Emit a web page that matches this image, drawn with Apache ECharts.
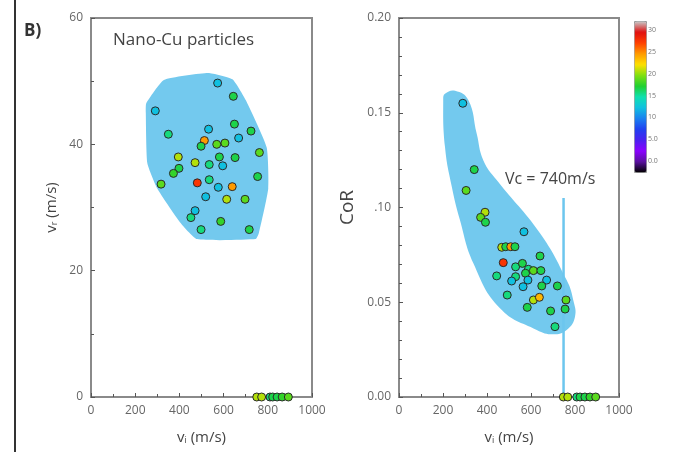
<!DOCTYPE html>
<html>
<head>
<meta charset="utf-8">
<script src="https://cdn.jsdelivr.net/npm/echarts@6/dist/echarts.min.js"></script>
<style>
  html, body { margin: 0; padding: 0; background: #fff; }
  #chart { width: 674px; height: 452px; }
</style>
</head>
<body>
<div id="chart"></div>
<script>
// impact velocity vi (m/s), rebound velocity vr (m/s), colour value
var reboundPoints = [
  [573, 49.7, 12.5], [644, 47.6, 17], [291, 45.3, 12.5], [649, 43.2, 17], [350, 41.6, 16],
  [532, 42.4, 12.5], [724, 42.1, 17], [668, 41.0, 12.5], [513, 40.6, 25], [498, 39.7, 17],
  [569, 40.0, 19], [606, 40.2, 19], [762, 38.7, 19], [395, 38.0, 21], [581, 38.0, 17],
  [652, 37.9, 17], [471, 37.1, 21], [535, 36.8, 16], [596, 36.6, 12.5], [398, 36.2, 17],
  [373, 35.4, 18], [754, 34.9, 17], [317, 33.7, 19], [535, 34.4, 16], [481, 33.9, 28],
  [576, 33.2, 12.5], [639, 33.3, 25], [519, 31.7, 12.5], [614, 31.3, 21], [697, 31.3, 19],
  [471, 29.5, 12.5], [452, 28.4, 16], [587, 27.8, 18], [498, 26.5, 16], [716, 26.5, 17],
  [750, 0, 21], [772, 0, 21], [810, 0, 16], [822, 0, 17], [842, 0, 17], [865, 0, 18], [893, 0, 19]
];

// impact velocity vi (m/s), coefficient of restitution, colour value
var corPoints = [
  [290, 0.155, 12.5], [342, 0.120, 17], [305, 0.109, 19], [391, 0.0975, 21], [371, 0.0948, 19],
  [393, 0.0922, 17], [568, 0.0872, 12.5], [467, 0.079, 21], [485, 0.0793, 17], [508, 0.0793, 25],
  [527, 0.0793, 17], [641, 0.0744, 17], [474, 0.0709, 28], [530, 0.0687, 16], [561, 0.0705, 17],
  [588, 0.0674, 16], [611, 0.0667, 19], [645, 0.0667, 17], [444, 0.0639, 16], [530, 0.0635, 16],
  [575, 0.0653, 17], [512, 0.0612, 12.5], [586, 0.0617, 12.5], [671, 0.0617, 12.5], [649, 0.0586, 17],
  [564, 0.0582, 12.5], [720, 0.0586, 17], [492, 0.0538, 16], [611, 0.0512, 21], [638, 0.0526, 24],
  [759, 0.0512, 19], [583, 0.0473, 17], [689, 0.0454, 17], [755, 0.0464, 17], [709, 0.0371, 16],
  [747, 0, 21], [767, 0, 21], [808, 0, 16], [823, 0, 17], [845, 0, 17], [868, 0, 18], [894, 0, 19]
];

// shaded regions (outline vertices in data units)
var reboundZone = [
  [250, 46.5], [330, 50.2], [530, 51.3], [640, 50.3], [700, 47], [795, 39.5], [802, 33],
  [760, 26], [745, 25], [480, 25], [400, 27.8], [300, 33], [255, 37], [248, 45]
];
var corZone = [
  [209, 0.160], [255, 0.1616], [315, 0.1567], [353, 0.139], [383, 0.125], [444, 0.1145],
  [641, 0.0864], [762, 0.0617], [792, 0.0512], [800, 0.0424], [762, 0.0354], [701, 0.0331],
  [626, 0.0354], [459, 0.0468], [338, 0.0706], [277, 0.0934], [240, 0.111], [209, 0.132], [201, 0.157]
];

var vcLine = [[748, 0], [748, 0.105]];

var zoneColor = '#73c9ee';
var axisColor = '#8a8a8a';
var labelColor = '#666';
var fontName = 'Open Sans';

var chart = echarts.init(document.getElementById('chart'));

function zoneRenderer(points, smooth) {
  return function(params, api) {
    return {
      type: 'polygon',
      shape: { points: points.map(function(p) { return api.coord(p); }), smooth: smooth },
      style: { fill: zoneColor }
    };
  };
}

function valueAxis(grid, min, max, interval, extra) {
  var ax = {
    type: 'value', gridIndex: grid, min: min, max: max, interval: interval,
    axisLine: { show: true, onZero: false, lineStyle: { color: axisColor, width: 2 } },
    axisTick: { show: true, inside: true, length: 4, lineStyle: { color: '#555' } },
    minorTick: { show: true, splitNumber: 2, length: 3, lineStyle: { color: '#555' } },
    splitLine: { show: false },
    axisLabel: {
      color: labelColor, fontSize: 12, fontFamily: fontName,
      formatter: function(v) { return String(v); }
    }
  };
  for (var k in extra) ax[k] = extra[k];
  return ax;
}

var subRich = {
  a: { fontSize: 15, color: '#444', fontFamily: fontName },
  s: { fontSize: 9, color: '#444', fontFamily: fontName, verticalAlign: 'bottom', padding: [6, 0, 0, 0] }
};

var velName = {
  name: '{a|v}{s|i}{a| (m/s)}',
  nameLocation: 'middle', nameGap: 33,
  nameTextStyle: { rich: subRich }
};

var option = {
  backgroundColor: '#fff',
  animation: false,
  grid: [
    { left: 91, top: 18, width: 221, height: 379, show: true, borderColor: axisColor, borderWidth: 2 },
    { left: 399, top: 18, width: 220, height: 379, show: true, borderColor: axisColor, borderWidth: 2 },
    { left: 634, top: 30, width: 12, height: 131 }
  ],
  xAxis: [
    valueAxis(0, 0, 1000, 200, velName),
    valueAxis(1, 0, 1000, 200, velName),
    { type: 'value', gridIndex: 2, show: false }
  ],
  yAxis: [
    valueAxis(0, 0, 60, 20, {
      name: '{a|v}{s|r}{a| (m/s)}',
      nameLocation: 'middle', nameGap: 32,
      nameTextStyle: { rich: subRich }
    }),
    valueAxis(1, 0, 0.2, 0.05, {
      minorTick: { show: true, splitNumber: 5, length: 3, lineStyle: { color: '#555' } },
      axisLabel: {
        color: labelColor, fontSize: 12, fontFamily: fontName,
        formatter: function(v) { return Math.abs(v - 0.1) < 1e-9 ? '.10' : v.toFixed(2); }
      },
      name: 'CoR', nameLocation: 'middle', nameGap: 42,
      nameTextStyle: { fontSize: 19, color: '#444', fontFamily: fontName }
    }),
    {
      type: 'value', gridIndex: 2, min: 0, max: 30, interval: 5, position: 'right',
      axisLine: { show: false },
      axisTick: { show: true, length: 3, lineStyle: { color: '#999' } },
      splitLine: { show: false },
      axisLabel: {
        color: '#777', fontSize: 7, margin: 2, fontFamily: fontName,
        formatter: function(v) { return v < 10 ? v.toFixed(1) : String(v); }
      }
    }
  ],
  visualMap: {
    type: 'continuous',
    seriesIndex: [2, 3],
    dimension: 2,
    min: -2.5, max: 32.5,
    left: 634, top: 21,
    itemWidth: 12, itemHeight: 151,
    calculable: false,
    showLabel: false,
    text: null,
    padding: 0,
    borderColor: '#999', borderWidth: 1,
    inRange: {
      color: ['#000000', '#5a10a0', '#8a00ff', '#4a20f0', '#2040f0', '#1a80f0', '#10c0e0',
        '#10e0b0', '#20d030', '#80e010', '#ffe000', '#ff9a00', '#ff4000', '#e01010', '#c8c8c8']
    }
  },
  graphic: [
    { type: 'rect', left: 14, top: 0, shape: { width: 2, height: 452 }, style: { fill: '#333' } },
    { type: 'text', left: 24, top: 23, style: { text: 'B)', font: 'bold 17px "Open Sans"', fill: '#333' } },
    { type: 'text', left: 113, top: 32, style: { text: 'Nano-Cu particles', font: '17px "Open Sans"', fill: '#444' } },
    { type: 'text', left: 505, top: 171, style: { text: 'Vc = 740m/s', font: '16px "Open Sans"', fill: '#444' } }
  ],
  series: [
    {
      type: 'custom', xAxisIndex: 0, yAxisIndex: 0, z: 1,
      data: [[0, 0]], renderItem: zoneRenderer(reboundZone, 0.15)
    },
    {
      type: 'custom', xAxisIndex: 1, yAxisIndex: 1, z: 1,
      data: [[0, 0]], renderItem: zoneRenderer(corZone, 0.45)
    },
    {
      type: 'scatter', xAxisIndex: 0, yAxisIndex: 0, z: 4, clip: false,
      symbolSize: 8, data: reboundPoints,
      itemStyle: { borderColor: '#2a2a2a', borderWidth: 1, opacity: 1 }
    },
    {
      type: 'scatter', xAxisIndex: 1, yAxisIndex: 1, z: 4, clip: false,
      symbolSize: 8, data: corPoints,
      itemStyle: { borderColor: '#2a2a2a', borderWidth: 1, opacity: 1 }
    },
    {
      type: 'line', xAxisIndex: 1, yAxisIndex: 1, z: 2,
      data: vcLine, symbol: 'none',
      lineStyle: { color: '#6cc6ee', width: 2.5 }
    }
  ]
};

chart.setOption(option);
</script>
</body>
</html>
